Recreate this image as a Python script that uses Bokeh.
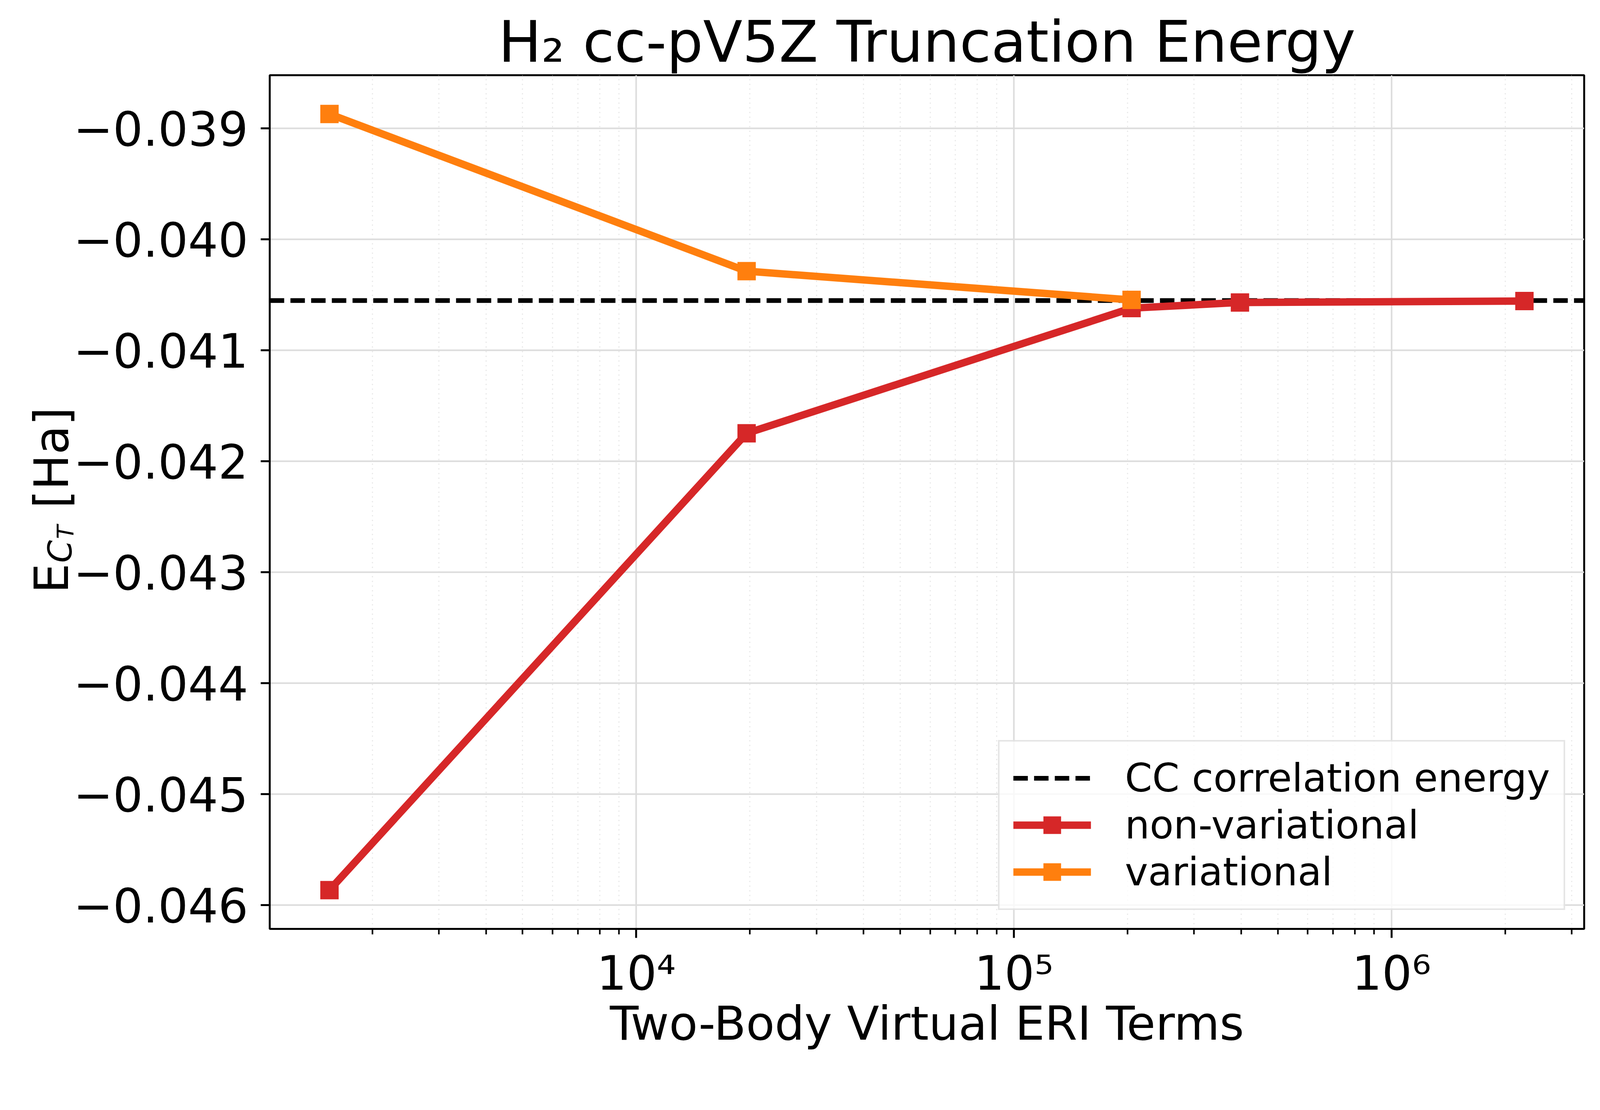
import math
from bokeh.plotting import figure
from bokeh.models import Range1d, FixedTicker
from bokeh.layouts import row
from bokeh.core.properties import value
from bokeh.embed import file_html
from bokeh.resources import INLINE

# ---------------- data ----------------
title_text = "H₂ cc-pV5Z Truncation Energy"
x_label_text = "Two-Body Virtual ERI Terms"
series_names = ["CC correlation energy", "non-variational", "variational"]

eri_nonvar = [1540, 19600, 205000, 397000, 2250000]
energy_nonvar = [-0.045864, -0.041748, -0.040620, -0.040569, -0.040556]

eri_var = [1540, 19600, 205000]
energy_var = [-0.038871, -0.040287, -0.040546]

cc_energy = -0.040552

y_ticks = [-0.046, -0.045, -0.044, -0.043, -0.042, -0.041, -0.040, -0.039]
y_tick_labels = ["−0.046", "−0.045", "−0.044", "−0.043", "−0.042", "−0.041", "−0.040", "−0.039"]
x_ticks = [1e4, 1e5, 1e6]
x_tick_labels = ["10⁴", "10⁵", "10⁶"]

# ---------------- ranges (5% margins like matplotlib) ----------------
lx = [math.log10(v) for v in eri_nonvar + eri_var]
lx_lo, lx_hi = min(lx), max(lx)
mx = 0.05 * (lx_hi - lx_lo)
x_start, x_end = 10 ** (lx_lo - mx), 10 ** (lx_hi + mx)

ys = energy_nonvar + energy_var + [cc_energy]
y_lo, y_hi = min(ys), max(ys)
my = 0.05 * (y_hi - y_lo)
y_range = Range1d(y_lo - my, y_hi + my)

# ---------------- layout constants ----------------
S = 0.965
def px(v):
    return int(round(v * S))

FONT = "DejaVu Sans"
RED = "#d62728"
ORANGE = "#ff7f0e"

H = px(2825)
TOTAL_W = px(4244)

frame_left = px(723) - 8
frame_right = px(4210) - 8
frame_top = px(207) - 8
frame_bottom = px(2472) - 8
FH = frame_bottom - frame_top

MAIN_LEFT_BORDER = 40
LAB_W = frame_left - MAIN_LEFT_BORDER
MAIN_W = TOTAL_W - LAB_W

p = figure(
    width=MAIN_W, height=H,
    x_axis_type="log",
    x_range=Range1d(x_start, x_end),
    y_range=y_range,
    output_backend="svg", toolbar_location=None,
    min_border_left=MAIN_LEFT_BORDER,
    min_border_right=TOTAL_W - frame_right,
    min_border_top=frame_top,
    min_border_bottom=H - frame_bottom,
)
p.background_fill_color = "white"
p.border_fill_color = "white"
p.outline_line_color = "black"
p.outline_line_width = 5

# title
p.title.text = title_text
p.title.align = "center"
p.title.text_font = FONT
p.title.text_font_size = f"{px(152)}px"
p.title.text_font_style = "normal"
p.title.text_color = "black"
p.title.standoff = 0

# data renderers
p.line([x_start, x_end], [cc_energy, cc_energy], line_color="black",
       line_width=px(12), line_dash=f"{px(38)} {px(17)}", legend_label=series_names[0])

p.line(eri_nonvar, energy_nonvar, line_color=RED, line_width=px(20),
       legend_label=series_names[1])
p.scatter(eri_nonvar, energy_nonvar, marker="square", size=px(49),
          fill_color=RED, line_color=RED, line_width=0, legend_label=series_names[1])

p.line(eri_var, energy_var, line_color=ORANGE, line_width=px(20),
       legend_label=series_names[2])
p.scatter(eri_var, energy_var, marker="square", size=px(49),
          fill_color=ORANGE, line_color=ORANGE, line_width=0, legend_label=series_names[2])

# x axis
minor = [m * 10 ** e for e in range(3, 7) for m in range(2, 10)
         if x_start <= m * 10 ** e <= x_end]
xa = p.xaxis[0]
xa.ticker = FixedTicker(ticks=x_ticks, minor_ticks=minor)
xa.major_label_overrides = {t: s for t, s in zip(x_ticks, x_tick_labels)}
xa.axis_label = x_label_text
xa.axis_label_text_font = FONT
xa.axis_label_text_font_size = f"{px(124)}px"
xa.axis_label_text_font_style = "normal"
xa.axis_label_text_color = "black"
xa.axis_label_standoff = -15
xa.major_label_text_font = FONT
xa.major_label_text_font_size = f"{px(125)}px"
xa.major_label_text_color = "black"
xa.major_label_standoff = 20
xa.axis_line_width = 5
xa.axis_line_color = "black"
xa.major_tick_out = px(24)
xa.major_tick_in = 0
xa.major_tick_line_width = 5
xa.minor_tick_out = px(14)
xa.minor_tick_in = 0
xa.minor_tick_line_width = 4

# y axis (ticks only here; its labels are drawn in the left panel)
ya = p.yaxis[0]
ya.ticker = FixedTicker(ticks=y_ticks)
ya.major_label_text_color = None
ya.major_label_text_alpha = 0
ya.major_label_text_font_size = "2px"
ya.major_label_standoff = 0
ya.axis_line_width = 5
ya.axis_line_color = "black"
ya.major_tick_out = px(24)
ya.major_tick_in = 0
ya.major_tick_line_width = 5
ya.minor_tick_out = 0
ya.minor_tick_in = 0

# grids
p.xgrid.grid_line_color = "#dcdcdc"
p.xgrid.grid_line_width = 4
p.xgrid.minor_grid_line_color = "#e8e8e8"
p.xgrid.minor_grid_line_width = 3
p.xgrid.minor_grid_line_dash = "3 9"
p.ygrid.grid_line_color = "#dcdcdc"
p.ygrid.grid_line_width = 4

# legend
lg = p.legend[0]
lg.location = "bottom_right"
lg.margin = px(50)
lg.padding = px(36)
lg.spacing = 3
lg.glyph_width = px(206)
lg.glyph_height = px(117)
lg.label_height = px(117)
lg.label_standoff = px(90)
lg.label_text_font = FONT
lg.label_text_font_size = f"{px(104)}px"
lg.label_text_color = "black"
lg.label_text_baseline = "middle"
lg.border_line_color = "#cccccc"
lg.border_line_width = 4
lg.background_fill_color = "white"
lg.background_fill_alpha = 0.8

# ---------------- left panel: y tick labels and y-axis label E_{C_T} [Ha] ----------------
q = figure(width=LAB_W, height=H, x_range=Range1d(0, LAB_W), y_range=y_range,
           x_axis_location=None, y_axis_location=None,
           output_backend="svg", toolbar_location=None,
           min_border_left=0, min_border_right=0,
           min_border_top=frame_top, min_border_bottom=H - frame_bottom)
q.extra_y_ranges = {"px": Range1d(0, FH)}
q.outline_line_color = None
q.background_fill_color = "white"
q.border_fill_color = "white"
q.grid.visible = False

# tick labels at the tick values (shared energy range)
q.text(x=[px(666) - 8] * len(y_ticks), y=y_ticks, text=y_tick_labels,
       text_font=value(FONT), text_font_size=value(f"{px(125)}px"),
       text_color="black", text_align="right", text_baseline="middle")

ylab_parts = [
    # text, page-x baseline, page-y start, size, style
    ("E", 145, 1581, 125, "normal"),
    ("C", 168, 1500, 86, "italic"),
    ("T", 181, 1437, 60, "italic"),
    ("[Ha]", 145, 1356, 125, "normal"),
]
for txt, bx, by, fs, st in ylab_parts:
    q.text(x=[px(bx) - 8], y=[frame_bottom - (px(by) - 8)], text=[txt], angle=math.pi / 2,
           y_range_name="px",
           text_font=value(FONT), text_font_size=value(f"{px(fs)}px"),
           text_font_style=st, text_color="black",
           text_align="left", text_baseline="alphabetic")

layout = row(q, p)
open("out.html", "w").write(file_html(layout, INLINE))
